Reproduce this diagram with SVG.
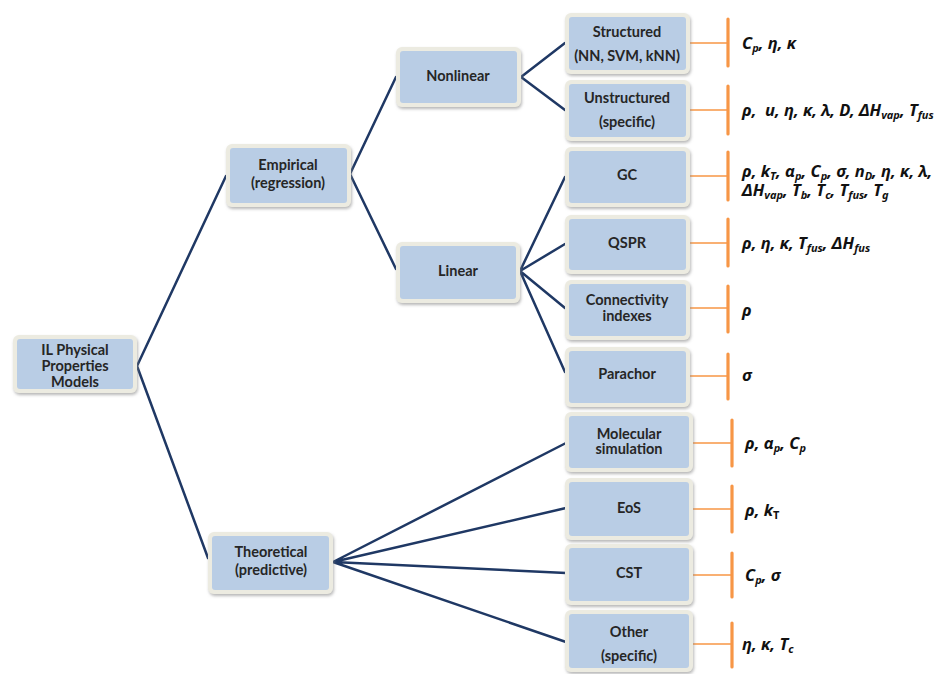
<svg xmlns="http://www.w3.org/2000/svg" width="949" height="674" viewBox="0 0 949 674">
<defs>
<filter id="sh" x="-10%" y="-10%" width="125%" height="130%">
<feDropShadow dx="1" dy="2" stdDeviation="1.5" flood-color="#888" flood-opacity="0.6"/>
</filter>
</defs>
<style>
.o{fill:#ECEBE1;filter:url(#sh)}
.i{fill:#B9CDE5}
.t{font-family:Lato,"Noto Sans","Liberation Sans",sans-serif;font-weight:bold;font-size:14.5px;fill:#262626;text-anchor:middle}
.c{stroke:#1F3864;stroke-width:2.5;fill:none;stroke-linecap:round}
.bh{stroke:#F79646;stroke-width:1.6}
.bv{stroke:#F79646;stroke-width:3.2;stroke-linecap:round}
.p{font-family:"Noto Sans","DejaVu Sans",sans-serif;font-weight:bold;font-style:italic;font-size:16.5px;fill:#111}
.s{font-size:11px}
</style>
<rect width="949" height="674" fill="#fff"/>
<g id="connectors">
<path class="c" d="M137,366 L226,176 M137,366 L208,558"/>
<path class="c" d="M350,174 L396,77 M350,174 L396,269"/>
<path class="c" d="M521,77 L565,43 M521,77 L565,110"/>
<path class="c" d="M520,271 L565,177 M520,271 L565,244 M520,271 L565,308 M520,271 L565,372"/>
<path class="c" d="M333,562 L566,443 M333,562 L566,508 M333,562 L566,573 M333,562 L566,642"/>
</g>
<g id="brackets">
<path class="bh" d="M690,43H728 M690,110H728 M690,176H728 M690,243H728 M690,308H728 M690,376H728 M693,443H732 M693,509H732 M693,575H732 M693,644H732"/>
<path class="bv" d="M728,19V66 M728,86V134 M728,152V200 M728,219V266 M728,286V332 M728,354V399 M732,420V466 M732,486V532 M732,553V597 M732,623V667"/>
</g>
<g id="root"><rect class="o" x="13" y="335" width="124" height="58" rx="6"/><rect class="i" x="17" y="339" width="116" height="50" rx="3"/>
<text class="t" x="75" y="355">IL Physical</text><text class="t" x="75" y="371">Properties</text><text class="t" x="75" y="387">Models</text></g>
<g id="empirical"><rect class="o" x="226" y="144" width="125" height="63" rx="6"/><rect class="i" x="230" y="148" width="117" height="55" rx="3"/>
<text class="t" x="288" y="170">Empirical</text><text class="t" x="288" y="188">(regression)</text></g>
<g id="theoretical"><rect class="o" x="208" y="532" width="125" height="62" rx="6"/><rect class="i" x="212" y="536" width="117" height="54" rx="3"/>
<text class="t" x="271" y="557">Theoretical</text><text class="t" x="271" y="575">(predictive)</text></g>
<g id="nonlinear"><rect class="o" x="396" y="47" width="125" height="60" rx="6"/><rect class="i" x="400" y="51" width="117" height="52" rx="3"/>
<text class="t" x="458" y="81">Nonlinear</text></g>
<g id="linear"><rect class="o" x="396" y="242" width="124" height="61" rx="6"/><rect class="i" x="400" y="246" width="116" height="53" rx="3"/>
<text class="t" x="458" y="276">Linear</text></g>
<g id="structured"><rect class="o" x="565" y="13" width="125" height="61" rx="6"/><rect class="i" x="569" y="17" width="117" height="53" rx="3"/>
<text class="t" x="627" y="37">Structured</text><text class="t" x="627" y="61">(NN, SVM, kNN)</text></g>
<g id="unstructured"><rect class="o" x="565" y="80" width="125" height="61" rx="6"/><rect class="i" x="569" y="84" width="117" height="53" rx="3"/>
<text class="t" x="627" y="103">Unstructured</text><text class="t" x="627" y="127">(specific)</text></g>
<g id="gc"><rect class="o" x="565" y="147" width="125" height="60" rx="6"/><rect class="i" x="569" y="151" width="117" height="52" rx="3"/>
<text class="t" x="627" y="180">GC</text></g>
<g id="qspr"><rect class="o" x="565" y="215" width="125" height="59" rx="6"/><rect class="i" x="569" y="219" width="117" height="51" rx="3"/>
<text class="t" x="627" y="248">QSPR</text></g>
<g id="connectivity"><rect class="o" x="565" y="280" width="125" height="60" rx="6"/><rect class="i" x="569" y="284" width="117" height="52" rx="3"/>
<text class="t" x="627" y="305">Connectivity</text><text class="t" x="627" y="321">indexes</text></g>
<g id="parachor"><rect class="o" x="565" y="347" width="125" height="60" rx="6"/><rect class="i" x="569" y="351" width="117" height="52" rx="3"/>
<text class="t" x="627" y="379">Parachor</text></g>
<g id="molsim"><rect class="o" x="565" y="412" width="128" height="60" rx="6"/><rect class="i" x="569" y="416" width="120" height="52" rx="3"/>
<text class="t" x="629" y="439">Molecular</text><text class="t" x="629" y="454">simulation</text></g>
<g id="eos"><rect class="o" x="565" y="478" width="128" height="62" rx="6"/><rect class="i" x="569" y="482" width="120" height="54" rx="3"/>
<text class="t" x="629" y="513">EoS</text></g>
<g id="cst"><rect class="o" x="565" y="544" width="128" height="61" rx="6"/><rect class="i" x="569" y="548" width="120" height="53" rx="3"/>
<text class="t" x="629" y="578">CST</text></g>
<g id="other"><rect class="o" x="565" y="610" width="128" height="62" rx="6"/><rect class="i" x="569" y="614" width="120" height="54" rx="3"/>
<text class="t" x="629" y="637">Other</text><text class="t" x="629" y="661">(specific)</text></g>
<g id="properties">
<text class="p" x="742" y="49">C<tspan class="s" dy="3">p</tspan><tspan dy="-3">, η, κ</tspan></text>
<text class="p" x="742" y="116" xml:space="preserve">ρ,  u, η, κ, λ, D, ΔH<tspan class="s" dy="3">vap</tspan><tspan dy="-3">, T</tspan><tspan class="s" dy="3">fus</tspan></text>
<text class="p" x="742" y="177">ρ, k<tspan class="s" dy="3">T</tspan><tspan dy="-3">, α</tspan><tspan class="s" dy="3">p</tspan><tspan dy="-3">, C</tspan><tspan class="s" dy="3">p</tspan><tspan dy="-3">, σ, n</tspan><tspan class="s" dy="3">D</tspan><tspan dy="-3">, η, κ, λ,</tspan><tspan x="742" dy="19">ΔH</tspan><tspan class="s" dy="3">vap</tspan><tspan dy="-3">, T</tspan><tspan class="s" dy="3">b</tspan><tspan dy="-3">, T</tspan><tspan class="s" dy="3">c</tspan><tspan dy="-3">, T</tspan><tspan class="s" dy="3">fus</tspan><tspan dy="-3">, T</tspan><tspan class="s" dy="3">g</tspan></text>
<text class="p" x="742" y="249">ρ, η, κ, T<tspan class="s" dy="3">fus</tspan><tspan dy="-3">, ΔH</tspan><tspan class="s" dy="3">fus</tspan></text>
<text class="p" x="742" y="316">ρ</text>
<text class="p" x="742" y="381">σ</text>
<text class="p" x="745" y="449">ρ, α<tspan class="s" dy="3">p</tspan><tspan dy="-3">, C</tspan><tspan class="s" dy="3">p</tspan></text>
<text class="p" x="745" y="516">ρ, k<tspan class="s" dy="3" font-style="normal">T</tspan></text>
<text class="p" x="745" y="581">C<tspan class="s" dy="3">p</tspan><tspan dy="-3">, σ</tspan></text>
<text class="p" x="742" y="650">η, κ, T<tspan class="s" dy="3">c</tspan></text>
</g>
</svg>
